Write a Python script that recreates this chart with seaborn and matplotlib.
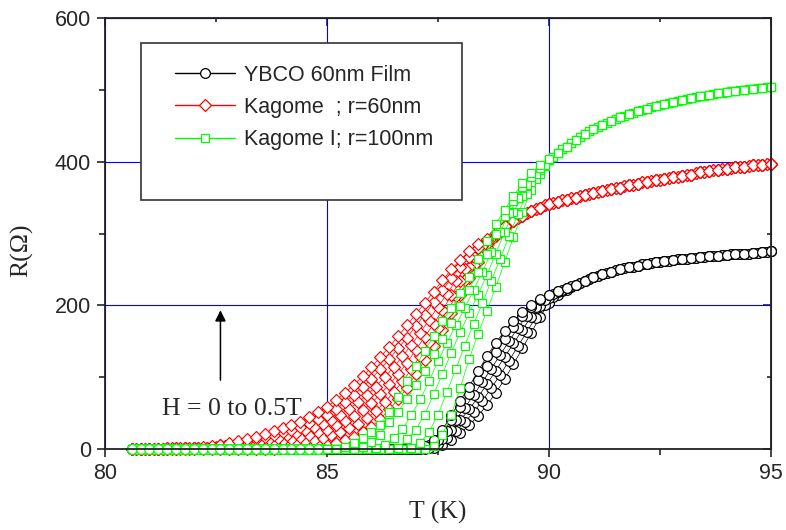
import pandas as pd
import seaborn as sns
import matplotlib.pyplot as plt
from matplotlib.lines import Line2D
from matplotlib.patches import Rectangle
from matplotlib.ticker import MultipleLocator

sns.set_style('ticks')
plt.rcParams['font.family'] = ['Liberation Sans', 'DejaVu Sans']
SERIF = ['Liberation Serif', 'DejaVu Serif']

# temperatures of the measured points (K); the two sweeps are offset by 0.1 K
temps_a = [80.6, 80.8, 81.0, 81.2, 81.4, 81.6, 81.8, 82.0, 82.2, 82.4,
           82.6, 82.8, 83.0, 83.2, 83.4, 83.6, 83.8, 84.0, 84.2, 84.4,
           84.6, 84.8, 85.0, 85.2, 85.4, 85.6, 85.8, 86.0, 86.2, 86.4,
           86.6, 86.8, 87.0, 87.2, 87.4, 87.6, 87.8, 88.0, 88.2, 88.4,
           88.6, 88.8, 89.0, 89.2, 89.4, 89.6, 89.8, 90.0, 90.2, 90.4,
           90.6, 90.8, 91.0, 91.2, 91.4, 91.6, 91.8, 92.0, 92.2, 92.4,
           92.6, 92.8, 93.0, 93.2, 93.4, 93.6, 93.8, 94.0, 94.2, 94.4,
           94.6, 94.8, 95.0]
temps_b = [80.7, 80.9, 81.1, 81.3, 81.5, 81.7, 81.9, 82.1, 82.3, 82.5,
           82.7, 82.9, 83.1, 83.3, 83.5, 83.7, 83.9, 84.1, 84.3, 84.5,
           84.7, 84.9, 85.1, 85.3, 85.5, 85.7, 85.9, 86.1, 86.3, 86.5,
           86.7, 86.9, 87.1, 87.3, 87.5, 87.7, 87.9, 88.1, 88.3, 88.5,
           88.7, 88.9, 89.1, 89.3, 89.5, 89.7, 89.9, 90.1, 90.3, 90.5,
           90.7, 90.9, 91.1, 91.3, 91.5, 91.7, 91.9, 92.1, 92.3, 92.5,
           92.7, 92.9, 93.1, 93.3, 93.5, 93.7, 93.9, 94.1, 94.3, 94.5,
           94.7, 94.9]
fields_a = [0.0, 0.2, 0.4, 0.5]
fields_b = [0.1, 0.3]
labels = ['YBCO 60nm Film', 'Kagome  ; r=60nm', 'Kagome I; r=100nm']

# YBCO film R (ohm)
ybco_tail_a = [234, 239, 243, 247, 250, 253, 255, 258, 260, 262, 263,
               265, 266, 267, 268, 269, 270, 271, 272, 273, 274, 275]
ybco_tail_b = [237, 241, 245, 249, 252, 254, 257, 259, 261, 262, 264,
               265, 266, 267, 268, 270, 271, 272, 272, 273, 274]
ybco_a = [
    [0] * 32 + [0, 0, 2, 6, 13, 22, 33, 46, 61, 78, 97, 118, 140, 162, 184, 203, 214, 222, 229] + ybco_tail_a,
    [0] * 32 + [0, 1, 6, 14, 26, 40, 55, 72, 90, 109, 128, 147, 166, 184, 199, 210, 218, 224, 229] + ybco_tail_a,
    [0] * 32 + [0, 3, 10, 22, 40, 58, 77, 96, 116, 135, 153, 170, 185, 197, 207, 214, 220, 224, 229] + ybco_tail_a,
    [0] * 32 + [0, 4, 12, 27, 47, 67, 87, 108, 129, 148, 164, 178, 191, 201, 209, 215, 220, 224, 229] + ybco_tail_a,
]
ybco_b = [
    [0] * 32 + [0, 2, 7, 15, 25, 37, 51, 67, 85, 103, 123, 143, 163, 183, 200, 212, 220, 226, 231] + ybco_tail_b,
    [0] * 32 + [1, 5, 13, 25, 41, 57, 75, 93, 112, 131, 150, 169, 185, 198, 208, 216, 222, 227, 231] + ybco_tail_b,
]

# Kagome r=60nm R (ohm)
kag60_tail_a = [318, 325, 331, 336, 341, 344, 347, 350, 353, 356,
                359, 362, 364, 367, 369, 372, 374, 376, 378, 380,
                382, 385, 387, 389, 390, 392, 393, 395, 396, 397]
kag60_tail_b = [322, 328, 334, 339, 343, 346, 349, 352, 355, 358,
                361, 363, 366, 368, 371, 373, 375, 377, 379, 381,
                384, 386, 388, 390, 391, 393, 394, 396, 397]
kag60_a = [
    [0] * 17 + [1, 2, 3, 4, 5, 6, 9, 12, 17, 23, 31, 42, 55, 69, 85, 104, 124, 144, 165, 190,
                214, 238, 261, 281, 297, 309] + kag60_tail_a,
    [0] * 6 + [1, 1, 1, 2, 2, 3, 4, 6, 7, 8, 10, 12, 14, 17, 20, 23, 27, 33, 39, 46, 54, 64, 76,
               90, 104, 120, 138, 156, 174, 193, 214, 234, 253, 271, 286, 299, 309] + kag60_tail_a,
    [0] * 4 + [1, 1, 2, 2, 2, 3, 5, 6, 9, 11, 14, 17, 20, 23, 27, 31, 36, 42, 48, 56, 65, 75, 86,
               98, 111, 125, 140, 155, 171, 187, 204, 221, 238, 253, 267, 280, 291, 300, 310] + kag60_tail_a,
    [0] * 4 + [1, 1, 2, 2, 3, 4, 6, 8, 11, 14, 17, 21, 25, 29, 33, 38, 44, 51, 59, 68, 78, 89, 101,
               114, 128, 142, 157, 172, 188, 203, 219, 235, 250, 263, 275, 285, 293, 301, 310] + kag60_tail_a,
]
kag60_b = [
    [0] * 7 + [1, 1, 1, 2, 2, 3, 3, 4, 5, 6, 7, 9, 11, 13, 15, 19, 23, 29, 35, 43, 53, 65, 79,
               94, 111, 130, 149, 169, 190, 213, 235, 256, 275, 291, 303, 314] + kag60_tail_b,
    [0] * 4 + [1, 1, 1, 2, 2, 3, 4, 6, 7, 9, 11, 14, 16, 19, 22, 26, 30, 35, 41, 48, 56, 65, 75,
               87, 100, 114, 129, 145, 162, 180, 198, 216, 234, 251, 267, 282, 294, 305, 314] + kag60_tail_b,
]

# Kagome I r=100nm R (ohm)
kag100_tail_a = [412, 421, 430, 438, 445, 451, 457, 462, 466, 470, 474, 477, 480,
                 483, 486, 488, 491, 493, 495, 497, 499, 500, 501, 503, 504]
kag100_tail_b = [407, 417, 426, 434, 442, 448, 454, 460, 464, 468, 472, 476, 479,
                 482, 485, 487, 490, 492, 494, 496, 498, 500, 501, 502, 504]
kag100_a = [
    [0] * 34 + [4, 20, 48, 85, 125, 160, 192, 225, 260, 295, 330, 360, 383, 402] + kag100_tail_a,
    [0] * 30 + [2, 14, 27, 48, 76, 105, 134, 163, 189, 215, 242, 272, 302, 330, 352, 371,
                388, 403] + kag100_tail_a,
    [0] * 26 + [3, 10, 20, 37, 52, 70, 89, 109, 132, 153, 176, 199, 222, 246, 271, 299,
                324, 345, 365, 379, 391, 404] + kag100_tail_a,
    [0] * 24 + [3, 9, 16, 24, 34, 52, 72, 94, 115, 137, 157, 178, 196, 217, 240, 264, 290,
                313, 333, 352, 370, 384, 395, 404] + kag100_tail_a,
]
kag100_b = [
    [0] * 31 + [1, 8, 24, 48, 79, 111, 144, 174, 203, 234, 265, 296, 327, 355, 376, 394] + kag100_tail_b,
    [0] * 27 + [1, 6, 15, 28, 47, 69, 95, 122, 148, 172, 196, 221, 247, 274, 302, 328,
                350, 368, 383, 396] + kag100_tail_b,
]


def to_frame(curves_a, curves_b):
    rows = []
    for temps, fields, curves in [(temps_a, fields_a, curves_a), (temps_b, fields_b, curves_b)]:
        for h, rr in zip(fields, curves):
            for t, r in zip(temps, rr):
                rows.append({'T': t, 'R': r, 'H': h})
    return pd.DataFrame(rows)


fig = plt.figure(figsize=(7.86, 5.30), dpi=100)
ax = fig.add_axes([105 / 786, 81 / 530, 666 / 786, 431 / 530])

colors = ['#000000', '#ff0000', '#00ff00']
marks = ['o', 'D', 's']
msizes = {'o': 7, 'D': 6.5, 's': 6.2}

frames = [to_frame(ybco_a, ybco_b), to_frame(kag60_a, kag60_b), to_frame(kag100_a, kag100_b)]
for i, df in enumerate(frames):
    parts = [(df, marks[i])]
    if i == 2:
        # low temperature points of this film appear with round symbols
        parts = [(df[df['T'] < 85], 'o'), (df[df['T'] >= 85], 's')]
    for d, m in parts:
        sns.lineplot(data=d, x='T', y='R', units='H', estimator=None, sort=False,
                     color=colors[i], marker=m, markersize=msizes[m],
                     mfc='white', mec=colors[i], mew=0.85, lw=0.5,
                     clip_on=False, legend=False, ax=ax)

ax.set_xlim(80, 95)
ax.set_ylim(0, 600)
ax.xaxis.set_major_locator(MultipleLocator(5))
ax.xaxis.set_minor_locator(MultipleLocator(2.5))
ax.yaxis.set_major_locator(MultipleLocator(200))
ax.yaxis.set_minor_locator(MultipleLocator(100))
ax.grid(True, which='major', color='#0000ff', lw=0.8)
ax.set_axisbelow(True)
for s in ax.spines.values():
    s.set_linewidth(1.3)
    s.set_color('#222222')
ax.tick_params(which='major', direction='out', length=6, width=1.2, labelsize=15.5, pad=4)
ax.tick_params(which='minor', direction='out', length=4, width=1.2)

top = ax.secondary_xaxis('top')
top.xaxis.set_major_locator(MultipleLocator(5))
top.xaxis.set_minor_locator(MultipleLocator(2.5))
top.tick_params(which='major', direction='in', length=6, width=1.2, labeltop=False)
top.tick_params(which='minor', direction='in', length=3, width=1.2)
right = ax.secondary_yaxis('right')
right.yaxis.set_major_locator(MultipleLocator(200))
right.yaxis.set_minor_locator(MultipleLocator(100))
right.tick_params(which='major', direction='in', length=6, width=1.2, labelright=False)
right.tick_params(which='minor', direction='in', length=3, width=1.2)

ax.set_xlabel('T (K)', fontsize=18.5, family=SERIF)
ax.set_ylabel('R(\u03a9)', fontsize=18.5, family=SERIF)
ax.xaxis.set_label_coords(0.5, -0.12)
ax.yaxis.set_label_coords(-0.108, 0.462)

ax.annotate('', xy=(82.6, 197), xytext=(82.6, 92),
            arrowprops=dict(arrowstyle='-|>', color='black', lw=1.1, mutation_scale=16))
ax.text(82.85, 56, 'H = 0 to 0.5T', ha='center', va='center', fontsize=18.5, family=SERIF)

# legend box
ax.add_patch(Rectangle((0.054, 0.578), 0.482, 0.364, transform=ax.transAxes,
                       facecolor='white', edgecolor='#333333', lw=1.2, zorder=4))
handles = [Line2D([], [], color=c, marker=m, ms=msizes[m], mfc='white', mec=c,
                  mew=0.9, lw=1) for c, m in zip(colors, marks)]
leg = ax.legend(handles, labels, loc='upper left', bbox_to_anchor=(0.105, 0.892),
                frameon=False, fontsize=15.5, handlelength=2.8, handletextpad=0.4,
                labelspacing=0.53, borderpad=0, borderaxespad=0)
leg.set_zorder(5)

fig.savefig('out.png', dpi=100)
